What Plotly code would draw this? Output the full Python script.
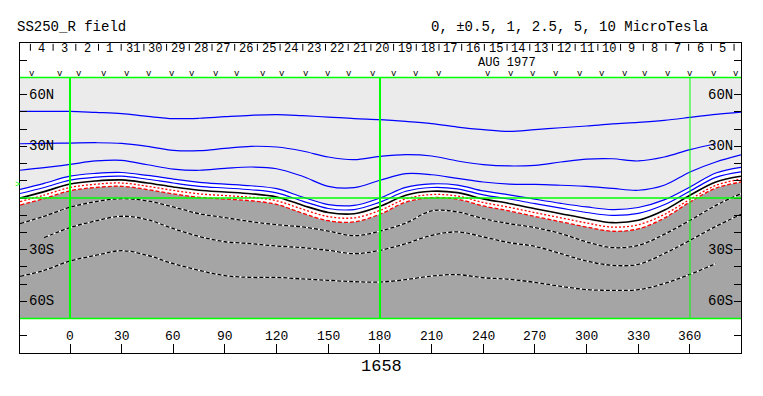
import plotly.graph_objects as go

# ---------------- data ----------------
LON = [-29, -15, 0, 15, 30, 45, 60, 75, 90, 105, 120, 135, 150, 165, 180,
       195, 210, 225, 240, 255, 270, 285, 300, 315, 330, 345, 360, 375, 389.6]

# contour latitudes (deg) for each level, sampled at LON
B_P10 = [50.3, 50.3, 50.3, 49.7, 49.0, 47.4, 46.1, 46.3, 47.2, 48.0, 48.4, 47.8, 47.0, 46.1, 45.5,
         44.5, 43.2, 41.2, 39.7, 38.7, 39.7, 40.8, 41.8, 43.0, 43.9, 45.1, 46.8, 48.6, 49.9]
B_P5 = [31.5, 31.7, 31.9, 32.1, 31.7, 30.0, 27.7, 27.5, 28.8, 30.0, 29.6, 27.3, 23.8, 22.3, 24.2,
        25.2, 24.4, 21.5, 19.4, 18.6, 19.0, 20.9, 22.6, 22.8, 21.5, 23.8, 28.1, 31.5, None]
B_P2_5 = [16.1, 17.6, 19.5, 21.5, 21.9, 19.3, 16.8, 16.1, 17.2, 18.0, 17.0, 12.6, 6.8, 6.0, 10.3,
          14.1, 13.5, 11.4, 9.3, 8.1, 7.9, 7.4, 6.8, 5.6, 4.5, 7.4, 15.1, 20.9, 25.0]
B_P1 = [5.0, 8.5, 12.7, 14.3, 14.8, 13.1, 11.0, 9.1, 8.1, 7.1, 5.4, 0.6, -3.8, -4.3, 0.0,
        6.2, 8.2, 7.5, 4.1, 1.8, -0.7, -3.1, -5.2, -6.7, -5.5, -1.1, 6.4, 14.5, 17.8]
B_P0_5 = [2.6, 6.1, 10.4, 12.1, 12.7, 10.9, 8.7, 6.8, 5.8, 4.8, 3.0, -1.8, -6.1, -6.7, -2.4,
          3.9, 6.1, 5.3, 1.8, -0.6, -3.3, -5.9, -8.4, -10.1, -8.9, -3.9, 4.0, 12.0, 15.2]
B_0 = [0.0, 3.7, 8.1, 9.9, 10.5, 8.7, 6.4, 4.5, 3.5, 2.5, 0.6, -4.2, -8.4, -9.1, -4.8,
       1.6, 3.9, 3.1, -0.5, -3.2, -6.2, -9.1, -12.0, -14.3, -12.9, -7.1, 1.6, 9.3, 12.6]
B_M0_5 = [-2.1, 1.7, 6.1, 8.0, 8.7, 6.8, 4.4, 2.4, 1.4, 0.4, -1.6, -6.5, -10.8, -11.5, -7.2,
          -0.5, 2.0, 1.1, -2.6, -5.4, -8.5, -11.5, -14.5, -16.9, -15.5, -9.6, -0.8, 7.3, 11.0]
B_M1 = [-4.1, -0.3, 4.2, 6.1, 6.8, 4.9, 2.4, 0.4, -0.6, -1.6, -3.7, -8.8, -13.2, -13.9, -9.4,
        -2.4, 0.2, -0.7, -4.6, -7.5, -10.7, -13.8, -16.9, -19.3, -17.9, -11.7, -2.3, 5.7, 9.3]
B_M2_5 = [-14.9, -10.6, -5.4, -2.1, -0.4, -1.7, -5.2, -9.1, -11.4, -13.7, -15.5, -16.8, -19.2, -21.9, -19.2,
          -14.5, -7.5, -8.1, -12.0, -14.9, -17.2, -20.7, -25.5, -28.8, -27.5, -21.1, -13.0, -4.3, 2.5]
B_M5 = [None, -23.0, -17.2, -13.3, -10.6, -12.6, -17.8, -22.3, -25.4, -26.5, -27.9, -28.8, -30.4, -32.3, -30.4,
        -26.5, -21.7, -19.7, -22.6, -25.9, -28.1, -32.3, -36.6, -39.1, -38.5, -32.3, -24.6, -16.5, -9.5]
B_M10 = [-45.5, -42.0, -36.6, -33.3, -30.6, -33.3, -38.1, -42.0, -45.1, -46.1, -46.1, -47.0, -47.8, -48.6, -48.8,
         -47.4, -45.3, -44.5, -46.3, -47.2, -49.0, -51.3, -53.2, -53.6, -53.2, -49.7, -44.3, -38.1, None]

X_TICKS = [0, 30, 60, 90, 120, 150, 180, 210, 240, 270, 300, 330, 360]
LAT_TICKS = [-80, -70, -60, -50, -40, -30, -20, -10, 0, 10, 20, 30, 40, 50, 60, 70, 80]
LAT_LABELS = {60: "60N", 30: "30N", -30: "30S", -60: "60S"}

DAY_LABELS = ["4", "3", "2", "1", "31", "30", "29", "28", "27", "26", "25", "24", "23", "22", "21",
              "20", "19", "18", "17", "16", "15", "14", "13", "12", "11", "10", "9", "8", "7", "6", "5"]
FIRST_DAY_LON = -16.4      # Carrington longitude at noon of the first labelled day
DEG_PER_DAY = 13.18        # synodic rotation rate
OBS_LON = [-22, -6, 5, 20, 33, 46, 59, 71, 85, 97, 112, 123, 137, 150, 162, 176, 188, 201, 214,
           243, 256, 269, 282, 296, 309, 322, 334, 347, 360, 374, 387]

ROTATION = "1658"
MONTH = "AUG 1977"
TITLE_L = "SS250_R field"
TITLE_R = "0, \u00b10.5, 1, 2.5, 5, 10 MicroTesla"

# ---------------- figure ----------------
FONT = "Liberation Mono, Courier New, monospace"
LIGHT = "#ebebeb"
DARK = "#a5a5a5"
GREEN = "#00ff00"

# the page body has an 8px margin; compensate so the frame lands at x 20..741, y 43..353
PAGE = 8
ML, MR, MT, MB = 20 - PAGE, 22, 43 - PAGE, 43
W, H = 763 - PAGE, 396 - PAGE
PW, PH = W - ML - MR, H - MT - MB   # 721 x 310

fig = go.Figure()

def add(y, **kw):
    fig.add_trace(go.Scatter(x=LON, y=y, mode="lines", hoverinfo="skip", showlegend=False, **kw))

# dark gray: below -1 contour
add([-70] * len(LON), line=dict(width=0))
add(B_M1, line=dict(width=0, shape="spline"), fill="tonexty", fillcolor=DARK)
# white band: between +1 and -1 contours
add(B_P1, line=dict(width=0, shape="spline"))
add(B_M1, line=dict(width=0, shape="spline"), fill="tonexty", fillcolor="white")

# positive contours (blue)
for arr in (B_P10, B_P5, B_P2_5, B_P1, B_P0_5):
    add(arr, line=dict(color="#0000ff", width=1.2, shape="spline"))
# neutral line
add(B_0, line=dict(color="black", width=1.6, shape="spline"))
# weak negative contours (red dashed)
add(B_M0_5, line=dict(color="#ff0000", width=1.3, shape="spline", dash="2px,2px"))
add(B_M1, line=dict(color="#ff0000", width=1.3, shape="spline", dash="4px,2px"))
# strong negative contours (black/white dashed)
for arr in (B_M2_5, B_M5, B_M10):
    add(arr, line=dict(color="white", width=1.3, shape="spline"))
    add(arr, line=dict(color="black", width=1.3, shape="spline", dash="4px,2px"))

shapes = [
    dict(type="rect", xref="paper", x0=0, x1=1, yref="y", y0=-70, y1=70,
         fillcolor=LIGHT, line=dict(width=0), layer="below"),
    dict(type="line", xref="paper", x0=0, x1=1, yref="y", y0=70, y1=70,
         line=dict(color=GREEN, width=1.5), layer="above"),
    dict(type="line", xref="paper", x0=0, x1=1, yref="y", y0=-70, y1=-70,
         line=dict(color=GREEN, width=1.5), layer="above"),
    dict(type="line", xref="paper", x0=0, x1=1, yref="y", y0=0, y1=0,
         line=dict(color=GREEN, width=1.5), layer="above"),
]
for lon, w in ((0, 2), (180, 2), (360, 1)):
    shapes.append(dict(type="line", xref="x", x0=lon, x1=lon, yref="y", y0=-70, y1=70,
                       line=dict(color=GREEN, width=w), layer="above"))

# day ticks along the top
day_lons = [FIRST_DAY_LON + i * DEG_PER_DAY for i in range(len(DAY_LABELS))]
tick_lons = [l - DEG_PER_DAY / 2 for l in day_lons] + [day_lons[-1] + DEG_PER_DAY / 2]
for t in tick_lons:
    shapes.append(dict(type="line", xref="x", x0=t, x1=t, yref="y", y0=89.5, y1=85.5,
                       line=dict(color="black", width=1), layer="above"))

ann = []
def text(x, y, s, size=14, color="black", xref="x", yref="y", xanchor="center",
         yanchor="middle"):
    ann.append(dict(x=x, y=y, xref=xref, yref=yref, text=s, showarrow=False,
                    xanchor=xanchor, yanchor=yanchor,
                    font=dict(family=FONT, size=size, color=color)))

for lon, lab in zip(day_lons, DAY_LABELS):
    text(lon, 86.8, lab, size=12)
text(253.7, 78.6, MONTH, size=12)
for lon in OBS_LON:
    text(lon, 72.0, "v", size=9)
for lat, lab in LAT_LABELS.items():
    text(7 / PW, lat, lab, size=14, xref="paper", xanchor="left")
    text(715 / PW, lat, lab, size=14, xref="paper", xanchor="right")
for lon in X_TICKS:
    text(lon, -80.7, str(lon), size=13)
text(-3 / PW, 7.5, ">", size=9, color=GREEN, xref="paper")
text(-5 / PW, 1 + 16 / PH, TITLE_L, size=14, xref="paper", yref="paper", xanchor="left")
text(690 / PW, 1 + 16 / PH, TITLE_R, size=14, xref="paper", yref="paper", xanchor="right")
text(181, -13 / PH, ROTATION, size=17, yref="paper")

fig.update_layout(
    width=W, height=H,
    margin=dict(l=ML, r=MR, t=MT, b=MB, pad=0),
    paper_bgcolor="white", plot_bgcolor="white",
    shapes=shapes, annotations=ann,
    xaxis=dict(range=[-29.03, 389.62], showgrid=False, zeroline=False, showline=True,
               linecolor="black", linewidth=1, mirror=True, ticks="inside",
               tickvals=X_TICKS, ticklen=9, tickcolor="black", showticklabels=False),
    yaxis=dict(range=[-90, 90], showgrid=False, zeroline=False, showline=True,
               linecolor="black", linewidth=1, mirror="ticks", ticks="inside",
               tickvals=LAT_TICKS, ticklen=7, tickcolor="black", showticklabels=False),
)

fig.write_html("out.html")
